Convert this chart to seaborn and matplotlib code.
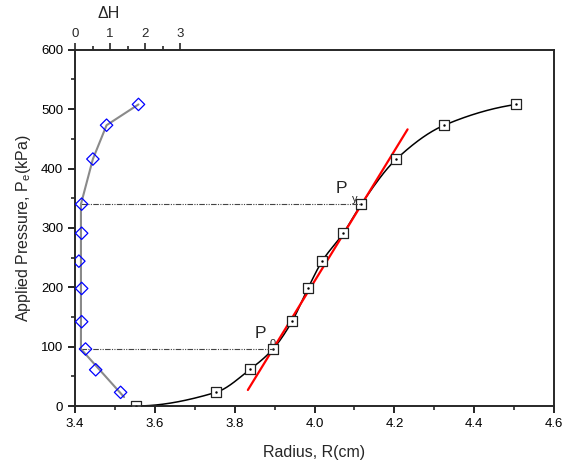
import numpy as np
import matplotlib
matplotlib.use("Agg")
import matplotlib.pyplot as plt
import seaborn as sns
from matplotlib.ticker import MultipleLocator, FixedLocator

# data
radius = [3.553, 3.753, 3.839, 3.896, 3.944, 3.984, 4.019, 4.072, 4.117, 4.205, 4.325, 4.505]
pressure = [0, 23, 62, 96, 143, 199, 244, 291, 340, 416, 473, 508]

dh = [1.30, 0.59, 0.30, 0.19, 0.19, 0.11, 0.19, 0.19, 0.51, 0.90, 1.81]
dh_pressure = [23, 61, 96, 142, 198, 244, 291, 340, 416, 473, 508]

# grey trend line through the delta-H points
dh_line = [1.40, 0.17, 0.17, 0.51, 0.90, 1.81]
dh_line_p = [15, 96, 340, 416, 473, 508]

# red tangent
tan_r = [3.833, 4.233]
tan_p = [27, 466]

p0, py = 96, 340
r0, ry = 3.896, 4.117
dh_ref = 0.17

sns.set_style("ticks")
plt.rcParams['font.family'] = ['Liberation Sans', 'DejaVu Sans']
plt.rcParams['mathtext.fontset'] = 'custom'
plt.rcParams['mathtext.rm'] = 'Liberation Sans'
plt.rcParams['mathtext.it'] = 'Liberation Sans'
plt.rcParams['axes.linewidth'] = 1.2


def pchip(x, y, xs):
    x = np.asarray(x, float); y = np.asarray(y, float)
    h = np.diff(x); d = np.diff(y) / h
    m = np.zeros_like(y)
    for k in range(1, len(x) - 1):
        if d[k - 1] * d[k] > 0:
            w1 = 2 * h[k] + h[k - 1]; w2 = h[k] + 2 * h[k - 1]
            m[k] = (w1 + w2) / (w1 / d[k - 1] + w2 / d[k])
    m[0] = 0.0
    m[-1] = d[-1] * 0.5
    idx = np.clip(np.searchsorted(x, xs) - 1, 0, len(x) - 2)
    t = (xs - x[idx]) / h[idx]
    h00 = 2 * t**3 - 3 * t**2 + 1; h10 = t**3 - 2 * t**2 + t
    h01 = -2 * t**3 + 3 * t**2; h11 = t**3 - t**2
    return h00 * y[idx] + h10 * h[idx] * m[idx] + h01 * y[idx + 1] + h11 * h[idx] * m[idx + 1]


fig = plt.figure(figsize=(5.63, 4.62), dpi=100)
ax = fig.add_axes([0.1332, 0.1212, 0.851, 0.771])

rs = np.linspace(radius[0], radius[-1], 400)
ax.plot(rs, pchip(radius, pressure, rs), color='black', lw=1.1, zorder=3)
ax.plot(tan_r, tan_p, color='#ff0000', lw=1.6, zorder=4)
sns.scatterplot(x=radius, y=pressure, ax=ax, marker='s', s=42, facecolor='white',
                edgecolor='#222222', linewidth=0.9, zorder=5)
ax.plot(radius, pressure, ls='none', marker='.', ms=1.5, color='black', zorder=6)

ax.set_xlim(3.4, 4.6)
ax.set_ylim(0, 600)
ax.xaxis.set_major_locator(MultipleLocator(0.2))
ax.xaxis.set_minor_locator(MultipleLocator(0.1))
ax.yaxis.set_major_locator(MultipleLocator(100))
ax.yaxis.set_minor_locator(MultipleLocator(50))
ax.tick_params(which='major', direction='out', length=5, width=1.2, labelsize=9.5, colors='black')
ax.tick_params(which='minor', direction='out', length=3, width=1.2)
ax.tick_params(axis='y', right=False)
ax.set_xlabel('Radius, R(cm)', fontsize=11.5, labelpad=11)
ax.set_ylabel('Applied Pressure, P$_\\mathregular{e}$(kPa)', fontsize=11.5, labelpad=6)

ax2 = ax.twiny()
ax2.set_xlim(0, 478 / 35)
ax2.xaxis.set_major_locator(FixedLocator([0, 1, 2, 3]))
ax2.xaxis.set_minor_locator(FixedLocator([0.5, 1.5, 2.5]))
ax2.tick_params(which='major', direction='out', length=5, width=1.2, labelsize=9.5, pad=2)
ax2.tick_params(which='minor', direction='out', length=3, width=1.2)
ax2.set_xlabel('\u0394H', fontsize=11.5)
ax2.xaxis.set_label_coords(0.071, 1.09)

# convert radius to top-axis units for the dashed guides
def r_to_dh(r):
    return (r - 3.4) / 1.2 * (478 / 35)

ls_dd = (0, (5, 1.2, 1, 1.2, 1, 1.2))
ax2.plot([dh_ref, r_to_dh(ry)], [py, py], color='#444444', lw=0.8, ls=ls_dd, zorder=2)
ax2.plot([dh_ref, r_to_dh(r0)], [p0, p0], color='#444444', lw=0.8, ls=ls_dd, zorder=2)

sns.lineplot(x=dh_line, y=dh_line_p, ax=ax2, sort=False, estimator=None,
             color='#8a8a8a', lw=1.5, zorder=3)
sns.scatterplot(x=dh, y=dh_pressure, ax=ax2, marker='D', s=40, facecolor='none',
                edgecolor='#0000ff', linewidth=0.9, zorder=5)
ax2.set_ylim(0, 600)

ax.text(3.851, 114, 'P', fontsize=12.5)
ax.text(3.888, 100, '0', fontsize=8)
ax.text(4.054, 358, 'P', fontsize=12.5)
ax.text(4.093, 343, 'y', fontsize=8)

fig.savefig('out.png', dpi=100)
